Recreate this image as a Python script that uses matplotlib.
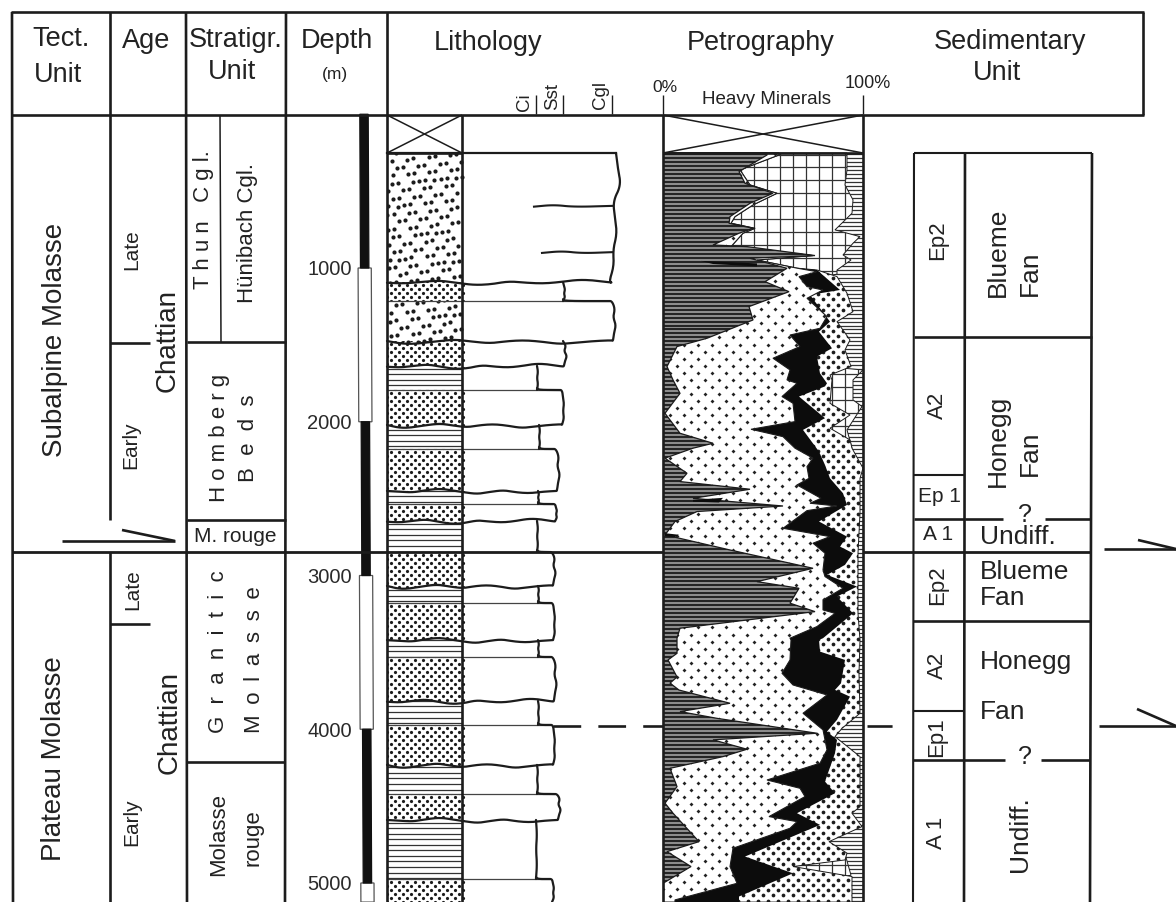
import numpy as np
import matplotlib
matplotlib.use("Agg")
import matplotlib.pyplot as plt

# -------------------------------
# Data
# -------------------------------

W, H = 1176, 902
INK = "#1c1c1c"

# Depth track
track_depth = [0, 1000, 2000, 3000, 4000, 5000, 5124]
track_black = [True, False, True, False, True, False]
depth_ticks = [1000, 2000, 3000, 4000, 5000]

# Lithology: bed tops (m), rock type and grain size reached by the log
bed_top = [252, 1091, 1215, 1475, 1637, 1793, 2021, 2177, 2450, 2535, 2645,
           2847, 3068, 3179, 3420, 3530, 3816, 3972, 4232, 4421, 4590, 4974]
bed_type = ["cgl", "sst", "cgl", "sst", "clay", "sst", "clay", "sst", "clay", "sst", "clay",
            "sst", "clay", "sst", "clay", "sst", "clay", "sst", "clay", "sst", "clay", "sst"]
bed_grain = [151, 101, 150, 101, 75, 100, 77, 94, 76, 93, 75,
             90, 76, 91, 76, 91, 76, 91, 75, 95, 74, 90]
bed_bottom_end = 5124
grain_ticks = [74, 101, 150]
cgl_branch_depth = [601, 902]
cgl_branch_start = [72, 80]

edge_first = [3, 5, 8, 0, 2, 4, 0, 1, -4]
edge_a = [0, 1, 2, 1, 2, 0]
edge_b = [0, 3, 1, 4, 2, 1]
edge_clay = [0, 1, 0, 1, 0]
wave_a = [5, -10, -15, 0, 10, 5, -5, 15, 20, 5, -10, 0, 10, 5]
wave_b = [0, 5, 15, 10, -5, 5, 20, 10, -5, -15, -5, 10, 5, 0]
wave_c = [-5, 0, 10, 20, 5, -5, 0, 15, 5, -10, 0, 15, 20, 0]

# Petrography boundaries, cumulative percent against depth (m)
dark_pct = [52, 38, 41, 55, 43.5, 33.5, 33, 45, 38, 25, 42, 76, 43.5, 62, 51, 63, 43, 45, 22, 7, 2, 5,
            8.5, 1, 8.5, 25, 15, 1, 12, 8.5, 43.5, 15, 60, 17, 6, 1, 33.5, 75, 47, 68, 63.5, 76, 8.5, 7,
            7, 2.5, 7, 3.5, 8, 33.5, 8.5, 27, 77, 25, 42, 30, 3.5, 7, 1, 5, 18, 2, 14, 0, 0]
dark_depth = [265, 373, 449, 514, 579, 666, 709, 742, 774, 850, 861, 919, 937, 1002, 1089, 1154, 1251, 1338,
              1457, 1511, 1641, 1728, 1815, 1945, 2075, 2140, 2172, 2237, 2335, 2389, 2439, 2498, 2548, 2584,
              2649, 2736, 2834, 2953, 3040, 3083, 3180, 3235, 3343, 3408, 3506, 3549, 3660, 3700, 3745, 3831,
              3885, 3929, 4026, 4069, 4130, 4178, 4254, 4373, 4481, 4546, 4731, 4796, 4893, 5002, 5124]

fine_pct = [58, 38.5, 43.5, 57, 45, 36, 34, 46, 40, 34, 75, 47, 67, 77, 68, 72, 80, 72, 82, 78.5, 63.5, 68.5,
            55, 63.5, 62, 67, 59.5, 65, 66, 44, 60, 66, 75, 72, 73, 67, 79, 73.5, 87, 72, 60, 83.5, 75, 81,
            80, 81, 90, 80, 80, 86, 77, 63.5, 64, 63.5, 59.5, 65, 82, 70, 80, 82, 78.5, 52, 68.5, 71, 53, 67,
            63.5, 35, 33.5, 37, 6]
fine_depth = [265, 362, 460, 514, 590, 666, 709, 742, 774, 861, 919, 948, 1001, 1024, 1056, 1121, 1143, 1197,
              1316, 1392, 1436, 1511, 1587, 1663, 1728, 1750, 1836, 1880, 1999, 2049, 2097, 2172, 2237, 2292,
              2368, 2411, 2498, 2530, 2548, 2578, 2693, 2747, 2790, 2855, 2964, 3007, 3083, 3159, 3224, 3246,
              3332, 3408, 3419, 3549, 3636, 3712, 3777, 3896, 4004, 4134, 4221, 4330, 4384, 4438, 4568, 4601,
              4644, 4774, 4893, 5002, 5110]

black_pct = [58, 38.5, 43.5, 57, 45, 36, 34, 46, 40, 34, 75, 47, 67, 77, 88.5, 73.5, 83.5, 78, 84.5, 77, 78.5,
             82, 81, 68, 81, 70, 78, 81, 83.5, 90, 92, 78, 92, 88.5, 95, 91, 82, 97, 87, 95, 80, 78, 78.5, 91,
             89, 86, 93.5, 87, 82, 87, 86, 81, 86, 67, 78.5, 41, 65, 38, 38]
black_depth = [265, 362, 460, 514, 590, 666, 709, 742, 774, 861, 919, 948, 1001, 1013, 1143, 1175, 1349, 1414,
               1522, 1576, 1685, 1750, 1770, 1836, 1977, 2053, 2194, 2281, 2368, 2465, 2541, 2649, 2747, 2812,
               2855, 2931, 2996, 3072, 3137, 3246, 3408, 3419, 3495, 3549, 3701, 3744, 3788, 3939, 4015, 4069,
               4156, 4340, 4416, 4546, 4622, 4828, 4937, 5088, 5124]

coarse_pct = [58, 38.5, 43.5, 57, 45, 36, 34, 46, 40, 34, 75, 47, 67, 77, 87, 92, 95, 87, 93.5, 91, 94, 83.5,
              84.5, 83.5, 93.5, 83.5, 93.5, 94.5, 100, 98.5, 98.5, 97.5, 97.5, 98.5, 98, 98.5, 89.5, 86, 98.5,
              98.5, 94.5, 99.5, 83, 92, 91, 65, 94.5, 94.5]
coarse_depth = [265, 362, 460, 514, 590, 666, 709, 742, 774, 861, 919, 948, 1001, 1013, 1056, 1164, 1284, 1349,
                1468, 1533, 1641, 1696, 1728, 1880, 1956, 2042, 2118, 2172, 2302, 2368, 2595, 2855, 3246, 3419,
                3636, 3896, 3994, 4048, 4178, 4503, 4546, 4633, 4731, 4806, 4850, 4893, 4958, 5124]

grid_pct = [92, 92, 91, 95, 94.5, 86, 98.5, 95, 90, 94, 87, 87, 80, 80, 100, 95, 95, 99.5, 92, 94.5,
            80, 80, 91, 94, 80, 80]
grid_depth = [265, 362, 460, 557, 644, 752, 796, 839, 915, 948, 1013, 1040, 1056, 1640, 1663, 1728, 1858, 1901,
              2053, 2172, 2200, 4790, 4810, 4950, 4970, 5124]

# Thin black streaks inside the dark field
streak_pct = [[19, 47, 47, 25], [15, 30, 28, 15], [1, 8, 6, 1]]
streak_depth = [[954, 970, 990, 974], [2508, 2495, 2525, 2520], [2725, 2735, 2750, 2745]]

# Header and column texts: text, x, y, size, rotation
GAP = " \u2009"
labels = [
    ("Tect.", 61, 39, 19.5, 0), ("Unit", 58, 75, 19.5, 0), ("Age", 146, 41, 19.5, 0),
    ("Stratigr.", 236, 40, 19.5, 0), ("Unit", 232, 72, 19.5, 0), ("Depth", 337, 41, 19.5, 0),
    ("(m)", 335, 75, 12.5, 0), ("Lithology", 488, 43, 19.5, 0), ("Petrography", 761, 43, 19.5, 0),
    ("Sedimentary", 1010, 42, 19.5, 0), ("Unit", 997, 73, 19.5, 0),
    ("Ci", 524, 102, 13.5, 90), ("Sst", 553, 97, 13.5, 90), ("Cgl", 600, 95, 13.5, 90),
    ("0%", 665, 88, 12.5, 0), ("100%", 868, 84, 13, 0), ("Heavy Minerals", 766, 100, 13.5, 0),
    ("Subalpine Molasse", 55, 340, 20, 90), ("Plateau Molasse", 54, 759, 20, 90),
    ("Chattian", 168, 340, 20, 90), ("Chattian", 170, 722, 20, 90),
    ("Late", 132, 250, 15, 90), ("Early", 131, 445, 15, 90),
    ("Late", 133, 590, 15, 90), ("Early", 132, 822, 15, 90),
    ("T h u n   C g l.", 203, 220, 16, 90), ("Hünibach Cgl.", 248, 233, 16, 90),
    ("H o m b e r g", 219, 438, 16, 90), ("B  e  d  s", 249, 438, 16, 90),
    ("M. rouge", 235, 536, 15, 0),
    ("G  r  a  n  i  t  i  c", 218, 652, 16, 90), (GAP.join("Molasse"), 254, 660, 16, 90),
    ("Molasse", 219, 834, 16, 90), ("rouge", 253, 838, 16, 90),
    ("Ep2", 938, 240, 16, 90), ("A2", 937, 405, 16, 90), ("Ep 1", 939, 497, 15, 0),
    ("A 1", 938, 535, 15, 0), ("Ep2", 938, 585, 16, 90), ("A2", 937, 665, 16, 90),
    ("Ep1", 937, 737, 16, 90), ("A 1", 937, 833, 16, 90),
    ("Blueme", 998, 252, 19, 90), ("Fan", 1030, 273, 19, 90),
    ("Honegg", 998, 441, 19, 90), ("Fan", 1030, 453, 19, 90),
    ("?", 1025, 515, 18, 0), ("?", 1025, 757, 18, 0),
    ("Undiff.", 1020, 834, 19, 90),
]
left_labels = [("Undiff.", 980, 537), ("Blueme", 980, 572), ("Fan", 980, 598),
               ("Honegg", 980, 662), ("Fan", 980, 712)]


# -------------------------------
# Helpers
# -------------------------------

def smooth(xs, ys, passes=3):
    p = np.column_stack([xs, ys]).astype(float)
    for _ in range(passes):
        a = 0.75 * p[:-1] + 0.25 * p[1:]
        b = 0.25 * p[:-1] + 0.75 * p[1:]
        mid = np.empty((a.shape[0] * 2, 2))
        mid[0::2] = a
        mid[1::2] = b
        p = np.vstack([p[0], mid, p[-1]])
    return p[:, 0], p[:, 1]


def panel(x0, x1, xlim):
    top = 114.25
    ax = fig.add_axes([x0 / W, 0, (x1 - x0) / W, (H - top) / H])
    ax.set_xlim(*xlim)
    ax.set_ylim(5123.6, 0)
    ax.patch.set_visible(False)
    for s in ax.spines.values():
        s.set_visible(False)
    return ax


def stagger(x0, x1, d0, d1, dx, dy):
    xs, ys = [], []
    for k, d in enumerate(np.arange(d0, d1, dy)):
        off = dx / 2 if k % 2 else 0
        row = np.arange(x0 + off, x1, dx)
        xs.extend(row)
        ys.extend([d] * len(row))
    return xs, ys


def pet_layer(ax, pct, depth, face, edge="none", lw=0.0, zorder=2):
    x = [0, pct[0]] + list(pct) + [pct[-1], 0]
    y = [252, 252] + list(depth) + [5124, 5124]
    return ax.fill(x, y, facecolor=face, edgecolor=edge, lw=lw, zorder=zorder)[0]


# -------------------------------
# Figure
# -------------------------------

fig = plt.figure(figsize=(W / 100, H / 100), dpi=100, facecolor="white")
plt.rcParams["font.family"] = ["Liberation Sans", "DejaVu Sans"]

# Log panel: x is grain scale, 0 at right side of lithology column
ax_log = panel(352, 640, (-110, 178))
ax_log.set_xticks(grain_ticks)
ax_log.set_xticklabels([])
ax_log.xaxis.tick_top()
ax_log.tick_params(axis="x", length=14, width=1.0, color=INK)
ax_log.set_yticks(depth_ticks)
ax_log.tick_params(axis="y", length=0, pad=0, labelsize=14.5, labelcolor="#2a2a2a")

# depth track, leaning slightly like the scan
for d0, d1, is_black in zip(track_depth[:-1], track_depth[1:], track_black):
    c0 = -98 + d0 / 5124 * 3.5
    c1 = -98 + d1 / 5124 * 3.5
    hw = 4.2 if is_black else 6.6
    ax_log.fill([c0 - hw, c1 - hw, c1 + hw, c0 + hw], [d0, d1, d1, d0],
                facecolor="#111111" if is_black else "white",
                edgecolor="#111111" if is_black else "#555555", lw=0.9, zorder=3 if is_black else 2,
                clip_on=False)

# clay lines everywhere in the column, sand beds go over them
clay_lines = np.arange(252, 5124, 36)
ax_log.hlines(clay_lines, -75, 0, color="#333333", lw=0.9, zorder=1)

bed_bottom = bed_top[1:] + [bed_bottom_end]
waves = [wave_a, wave_b, wave_c]
for i, (top, bottom, kind, w) in enumerate(zip(bed_top, bed_bottom, bed_type, bed_grain)):
    next_w = bed_grain[i + 1] if i + 1 < len(bed_grain) else 0
    wave = np.array(waves[i % 3], dtype=float)
    wave_x = np.linspace(w, -75, len(wave))
    has_wave = next_w < w and bottom < bed_bottom_end

    # bed texture
    if kind != "clay":
        if has_wave:
            wx, wy = smooth(wave_x, bottom + wave)
        else:
            wx, wy = np.array([w, -75.0]), np.array([bottom, bottom], dtype=float)
        poly = ax_log.fill(np.r_[-75, w, wx], np.r_[top, top, wy], facecolor="white", edgecolor="none", zorder=2)[0]
        if kind == "cgl":
            # even but irregular pebbles, pattern only
            n = np.arange(1, 190)
            gx = -75 + 75 * ((n * 0.75488) % 1)
            gy = 252 + 1240 * ((n * 0.56984) % 1)
            dots = ax_log.plot(gx, gy, "o", ms=3.0, color=INK, mew=0, zorder=3)[0]
        else:
            gx, gy = stagger(-75, 2, top - 5, bottom + 30, 8.0, 26)
            dots = ax_log.plot(gx, gy, "o", ms=2.3, color=INK, mew=0, zorder=3)[0]
        dots.set_clip_path(poly)

    # thin top line where the log steps to coarser grain
    if i > 0 and bed_grain[i - 1] < w:
        ax_log.plot([-75, w - 3], [top, top], color="#444444", lw=0.9, zorder=4)

    # outline
    if i == 0:
        edge = edge_first
    elif kind == "clay":
        edge = edge_clay
    else:
        edge = edge_a if i % 4 == 1 else edge_b
    frac = np.linspace(0, 1, len(edge))
    lx = list(w + np.array(edge, dtype=float))
    ly = list(top + frac * (bottom - top))
    if i > 0 and bed_grain[i - 1] < w:
        lx = [bed_grain[i - 1], bed_grain[i - 1] + 2, w - 4] + lx
        ly = [top - 12, top, top] + ly
    if has_wave:
        lx += list(wave_x)
        ly += list(bottom + wave)
    sx, sy = smooth(lx, ly)
    ax_log.plot(sx, sy, color=INK, lw=1.6, zorder=5, solid_capstyle="round")

# top of the log and the two fining-up branches in the conglomerate
ax_log.plot([-75, bed_grain[0] + 3], [252, 252], color=INK, lw=1.6, zorder=5)
for d, start in zip(cgl_branch_depth, cgl_branch_start):
    sx, sy = smooth([start, start + 20, start + 40, 150], [d, d - 12, d + 2, d - 5])
    ax_log.plot(sx, sy, color=INK, lw=1.5, zorder=5)

# Petrography panel
ax_pet = panel(663, 863, (0, 100))
ax_pet.set_xticks([0, 100])
ax_pet.set_xticklabels([])
ax_pet.xaxis.tick_top()
ax_pet.tick_params(axis="x", length=14, width=1.0, color=INK)
ax_pet.set_yticks([])

hatch_rows = np.arange(256, 5124, 26.0)
ax_pet.hlines(hatch_rows, 0, 100, color="#333333", lw=0.9, zorder=1)

grid_poly = pet_layer(ax_pet, grid_pct, grid_depth, "white", INK, 0.7, zorder=2)
g1 = ax_pet.hlines(np.arange(262, 5124, 84), 0, 100, color="#333333", lw=0.9, zorder=3)
g2 = ax_pet.vlines(np.arange(6.5, 100, 6.5), 252, 5124, color="#333333", lw=0.9, zorder=3)
for art in (g1, g2):
    art.set_clip_path(grid_poly)

coarse_poly = pet_layer(ax_pet, coarse_pct, coarse_depth, "white", INK, 0.7, zorder=4)
cx, cy = stagger(0, 100, 252, 5124, 5.0, 34)
coarse_dots = ax_pet.plot(cx, cy, "o", ms=2.7, color=INK, mew=0, zorder=4.1)[0]
coarse_dots.set_clip_path(coarse_poly)

black_poly = pet_layer(ax_pet, black_pct, black_depth, "#0c0c0c", zorder=5)

fine_poly = pet_layer(ax_pet, fine_pct, fine_depth, "white", INK, 0.8, zorder=6)
fx, fy = stagger(0, 100, 256, 5124, 7.0, 46)
fine_dots = ax_pet.plot(fx, fy, "D", ms=2.0, color="#222222", mew=0, zorder=6.1)[0]
fine_dots.set_clip_path(fine_poly)

dark_poly = pet_layer(ax_pet, dark_pct, dark_depth, "#8c8c8c", INK, 0.9, zorder=7)
dark_rows = ax_pet.hlines(hatch_rows, 0, 100, color="#1a1a1a", lw=1.3, zorder=7.1)
dark_rows.set_clip_path(dark_poly)

for sp, sd in zip(streak_pct, streak_depth):
    ax_pet.fill(sp, sd, facecolor="#0c0c0c", edgecolor="none", zorder=8)

# Frame, column borders, text: overlay in pixel coordinates
ax = fig.add_axes([0, 0, 1, 1], zorder=5)
ax.set_xlim(0, W)
ax.set_ylim(H, 0)
ax.axis("off")
ax.patch.set_visible(False)


def seg(x0, y0, x1, y1, lw=1.9, **kw):
    ax.plot([x0, x1], [y0, y1], color=INK, lw=lw, solid_capstyle="butt", **kw)


# header box
seg(11, 12, 1144, 12)
seg(11, 115, 1144, 115)
seg(1143, 12, 1143, 115)
seg(12, 12, 13, H)
for x0, x1, y0, y1 in [(110, 110, 12, 520), (110, 110, 552, H), (186, 187, 12, H),
                       (286, 285, 12, H), (387, 387, 12, H), (462, 462, 115, H),
                       (663, 663, 115, H), (863, 863, 115, H)]:
    seg(x0, y0, x1, y1)
for x0, x1, y0, y1 in [(387, 462, 115, 153), (387, 462, 153, 115), (663, 863, 115, 153), (663, 863, 153, 115)]:
    seg(x0, y0, x1, y1, lw=1.1)
seg(387, 153, 462, 153)
seg(663, 153, 863, 153)

# column splits on the left
seg(220, 115, 221, 342, lw=1.1)
seg(187, 342, 286, 342)
seg(110, 343, 150, 343)
seg(187, 520, 286, 520)
seg(110, 624, 150, 624)
seg(187, 762, 285, 762)

# thrust line across
seg(12, 552, 663, 552, lw=2.0)
seg(863, 552, 1091, 552, lw=2.0)
seg(62, 541, 175, 541)
seg(122, 530, 175, 541)
seg(1104, 549, 1176, 549)
seg(1138, 540, 1176, 549)
seg(1099, 726, 1176, 726)
seg(1137, 709, 1176, 726)

# dashed correlation
ax.plot([553, 663], [726, 726], color=INK, lw=1.9, dashes=(10.5, 6.5))
ax.plot([867, 913], [726, 726], color=INK, lw=1.9, dashes=(9.5, 10))

# sedimentary units box
seg(914, 153, 1092, 153, lw=1.5)
seg(914, 153, 913, H, lw=1.5)
seg(965, 153, 964, H)
seg(1092, 153, 1090, H)
seg(914, 337, 1092, 337)
seg(914, 475, 965, 475, lw=1.5)
seg(914, 519, 965, 519)
seg(965, 519, 1003, 519)
seg(1045, 519, 1091, 519)
seg(913, 621, 1090, 621)
seg(913, 711, 964, 711, lw=1.5)
seg(913, 760, 964, 760)
seg(964, 760, 1005, 760)
seg(1041, 760, 1090, 760)

for text, x, y, size, rot in labels:
    ax.text(x, y, text, fontsize=size, rotation=rot, ha="center", va="center", color="#222222")
for text, x, y in left_labels:
    ax.text(x, y, text, fontsize=19, ha="left", va="center", color="#222222")

fig.savefig("out.png", dpi=100)
